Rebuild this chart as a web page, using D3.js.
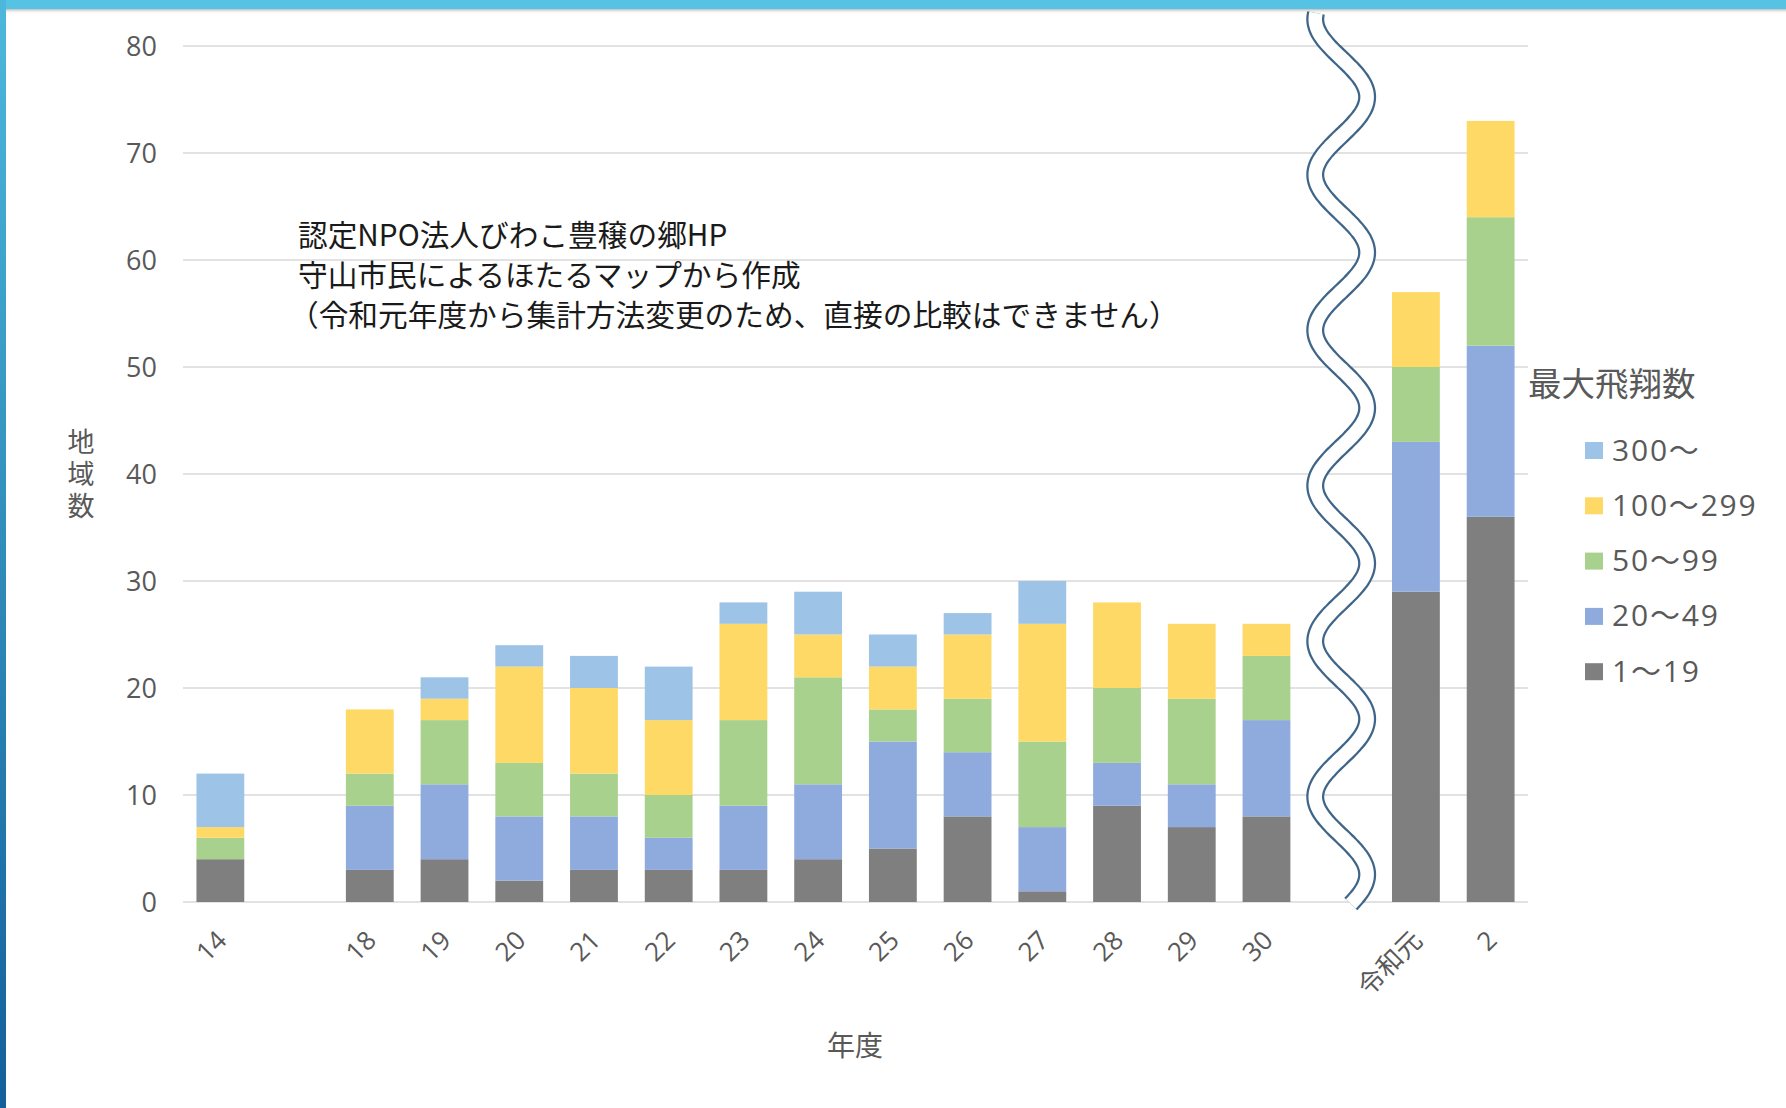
<!DOCTYPE html>
<html><head><meta charset="utf-8">
<script src="https://cdn.jsdelivr.net/npm/d3@7"></script>
<style>
html,body{margin:0;padding:0;background:#fff;}
svg{display:block;}
</style></head>
<body>
<svg id="chart" width="1786" height="1108"></svg>
<script>
// ---- data ----
const slots = ["14","gapA","18","19","20","21","22","23","24","25","26","27","28","29","30","gapB","令和元","2"];
const years = ["14","18","19","20","21","22","23","24","25","26","27","28","29","30","令和元","2"];
const s1_19    = [4,3,4,2,3,3,3,4,5,8,1,9,7,8,29,36];
const s20_49   = [0,6,7,6,5,3,6,7,10,6,6,4,4,9,14,16];
const s50_99   = [2,3,6,5,4,4,8,10,3,5,8,7,8,6,7,12];
const s100_299 = [1,6,2,9,8,7,9,4,4,6,11,8,7,3,7,9];
const s300     = [5,0,2,2,3,5,2,4,3,2,4,0,0,0,0,0];
const seriesNames = ["1～19","20～49","50～99","100～299","300～"];
const seriesColors = ["#7f7f7f","#8faadc","#a9d18e","#ffd966","#9dc3e6"];
const yTicks = [0,10,20,30,40,50,60,70,80];
const legendTitle = "最大飛翔数";
const yTitle = "地域数";
const xTitle = "年度";
const noteLines = ["認定NPO法人びわこ豊穣の郷HP","守山市民によるほたるマップから作成","（令和元年度から集計方法変更のため、直接の比較はできません）"];

const svg = d3.select("#chart");
const W = 1786, H = 1108;
const txt = "#595959";
const numFont = "'Open Sans','Noto Sans CJK JP',sans-serif";
const jpFont = "'Noto Sans CJK JP','Noto Sans',sans-serif";

// frame
const defs = svg.append("defs");
const lg = defs.append("linearGradient").attr("id","leftg").attr("x1",0).attr("y1",0).attr("x2",0).attr("y2",1);
lg.append("stop").attr("offset","0%").attr("stop-color","#4db8dc");
lg.append("stop").attr("offset","100%").attr("stop-color","#13609a");
const sh = defs.append("linearGradient").attr("id","shad").attr("x1",0).attr("y1",0).attr("x2",0).attr("y2",1);
sh.append("stop").attr("offset","0%").attr("stop-color","#bbbbbb");
sh.append("stop").attr("offset","100%").attr("stop-color","#ffffff").attr("stop-opacity",0);
svg.append("rect").attr("x",0).attr("y",0).attr("width",W).attr("height",H).attr("fill","#fff");
svg.append("rect").attr("x",6).attr("y",9).attr("width",W).attr("height",5).attr("fill","url(#shad)");
svg.append("rect").attr("x",0).attr("y",0).attr("width",W).attr("height",9).attr("fill","#57c3e4");
svg.append("rect").attr("x",0).attr("y",0).attr("width",6).attr("height",H).attr("fill","url(#leftg)");

// scales
const x = d3.scaleBand().domain(slots).range([183,1528]).paddingInner(0.36).paddingOuter(0.18);
const y = d3.scaleLinear().domain([0,80]).range([902,46]);

// gridlines
svg.append("g").selectAll("line").data(yTicks).join("line")
  .attr("x1",183).attr("x2",1528)
  .attr("y1",d=>y(d)).attr("y2",d=>y(d))
  .attr("stroke","#d9d9d9").attr("stroke-width",1.5);

// y axis labels
const yAxis = d3.axisLeft(y).tickValues(yTicks).tickSize(0).tickPadding(0);
const ga = svg.append("g").attr("transform","translate(157,0)").call(yAxis);
ga.select(".domain").remove();
ga.selectAll("text").attr("font-family",numFont).attr("font-size",27).attr("fill",txt).attr("dy","0.35em");

// stacked bars
const table = years.map((yr,i)=>({year:yr, s0:s1_19[i], s1:s20_49[i], s2:s50_99[i], s3:s100_299[i], s4:s300[i]}));
const stack = d3.stack().keys(["s0","s1","s2","s3","s4"])(table);
svg.append("g").selectAll("g").data(stack).join("g")
  .attr("fill",(d,i)=>seriesColors[i])
  .selectAll("rect").data(d=>d).join("rect")
  .attr("x",d=>x(d.data.year)).attr("width",x.bandwidth())
  .attr("y",d=>y(d[1])).attr("height",d=>y(d[0])-y(d[1]));

// x axis labels
const xAxis = d3.axisBottom(x).tickValues(years).tickSize(0).tickPadding(0);
const gx = svg.append("g").attr("transform","translate(0,902)").call(xAxis);
gx.select(".domain").remove();
gx.selectAll("text")
  .attr("font-family",numFont).attr("font-size",26).attr("fill",txt)
  .attr("text-anchor","end").attr("dy",0).attr("y",0)
  .attr("transform","translate(8,40) rotate(-45)");

// break wave (decoration between 30 and 令和元)
const cx = x("gapB") + x.bandwidth()/2;
const amp = 26, period = 155.5, yPeak = 97;
const wavePts = d3.range(13, 905, 3).map(v=>[cx + amp*Math.cos(2*Math.PI*(v-yPeak)/period), v]);
const wl = d3.line().curve(d3.curveBasis);
svg.append("path").attr("d",wl(wavePts)).attr("fill","none").attr("stroke","#3f6689").attr("stroke-width",18);
svg.append("path").attr("d",wl(wavePts)).attr("fill","none").attr("stroke","#ffffff").attr("stroke-width",13.5);

// y title (vertical writing)
svg.append("text").attr("x",81).attr("y",428)
  .style("writing-mode","vertical-rl").attr("letter-spacing",5)
  .attr("font-family",jpFont).attr("font-size",27).attr("fill",txt).text(yTitle);

// x title
svg.append("text").attr("x",855).attr("y",1046).attr("dy","0.35em").attr("text-anchor","middle")
  .attr("font-family",jpFont).attr("font-size",28).attr("fill",txt).text(xTitle);

// annotation
svg.append("g").selectAll("text").data(noteLines).join("text")
  .attr("x",(d,i)=> i===2 ? 289 : 298).attr("y",(d,i)=>236 + i*40).attr("dy","0.35em")
  .attr("font-family",jpFont).attr("font-size",29.7).attr("fill","#1a1a1a").text(d=>d);

// legend
svg.append("text").attr("x",1528).attr("y",384).attr("dy","0.35em")
  .attr("font-family",jpFont).attr("font-size",33.5).attr("fill",txt).text(legendTitle);
const legOrder = [4,3,2,1,0];
const lgG = svg.append("g").selectAll("g").data(legOrder).join("g")
  .attr("transform",(d,i)=>`translate(1585,${450 + i*55.3})`);
lgG.append("rect").attr("x",0).attr("y",-8).attr("width",18).attr("height",17).attr("fill",d=>seriesColors[d]);
lgG.append("text").attr("x",27).attr("y",0).attr("dy","0.35em")
  .attr("font-family",numFont).attr("font-size",30).attr("letter-spacing",1.8).attr("fill",txt)
  .text(d=>seriesNames[d]);
</script>
</body></html>
